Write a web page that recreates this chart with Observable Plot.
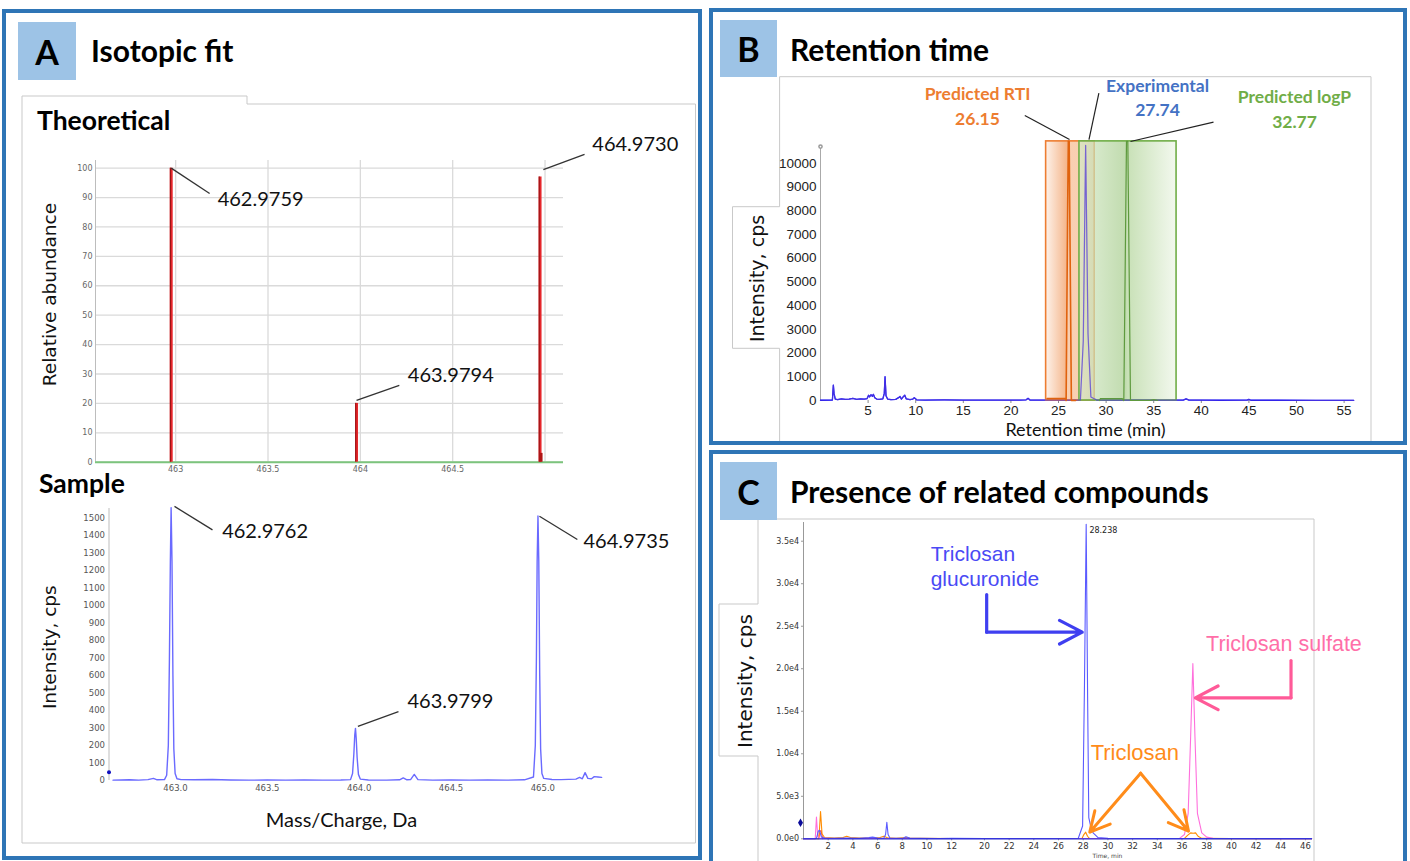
<!DOCTYPE html>
<html>
<head>
<meta charset="utf-8">
<script src="https://cdn.jsdelivr.net/npm/d3@7"></script>
<script src="https://cdn.jsdelivr.net/npm/@observablehq/plot@0.6"></script>
<style>
  html, body { margin:0; padding:0; background:#fff; width:1410px; height:861px; overflow:hidden; }
  #page { position:relative; width:1410px; height:861px; }
  .panel { position:absolute; box-sizing:border-box; border:4px solid #2E75B6; }
  .letter { position:absolute; background:#9DC3E6; color:#000; font-family:Lato, "Open Sans", sans-serif; font-weight:700; font-size:34px; display:flex; align-items:center; justify-content:center; }
  .title { position:absolute; font-family:Lato, "Open Sans", sans-serif; font-weight:700; color:#000; white-space:nowrap; height:40px; line-height:40px; }
  .layer { position:absolute; left:0; top:0; width:1410px; height:861px; }
  .layer svg { position:absolute; left:0; top:0; }
</style>
</head>
<body>
<div id="page">
  <svg class="layer" width="1410" height="861">
    <g fill="none" stroke="#c9c9c9" stroke-width="1">
      <path d="M22,843 V96 H247 V104 H695.5 V843 Z"/>
      <path d="M779.6,441 V348.3 H732.5 V206.7 H779.6 V76.7 H1371 V441"/>
      <path d="M758,861 V756 H719 V604 H758 V519 H1314 V861"/>
    </g>
  </svg>
  <div class="panel" style="left:2px;top:9px;width:700px;height:851px"></div>
  <div class="panel" style="left:709px;top:8px;width:698px;height:437px"></div>
  <div class="panel" style="left:709px;top:450px;width:698px;height:430px"></div>
  <div class="letter" style="left:18px;top:22px;width:58px;height:58px">A</div>
  <div class="letter" style="left:720px;top:20px;width:57px;height:57px">B</div>
  <div class="letter" style="left:720px;top:462px;width:57px;height:58px">C</div>
  <div class="title" style="left:91px;top:30px;font-size:30px">Isotopic fit</div>
  <div class="title" style="left:790px;top:29px;font-size:30px">Retention time</div>
  <div class="title" style="left:790px;top:471px;font-size:30px">Presence of related compounds</div>
  <div class="title" style="left:37px;top:100px;font-size:26.5px">Theoretical</div>
  <div class="title" style="left:39px;top:463px;font-size:26.5px">Sample</div>
  <div id="charts" class="layer"></div>
</div>
<script>
// ================= DATA =================
// --- Panel A, theoretical isotope pattern ---
const theoMz = [462.9759, 463.9794, 464.9730];
const theoAbundance = [100, 20, 97];
const theoMinorMz = [464.9785];
const theoMinorAbundance = [3];
const theoXTicks = [463, 463.5, 464, 464.5];
const theoGridX = [463, 463.5, 464, 464.5, 465];
const theoYTicks = [0, 10, 20, 30, 40, 50, 60, 70, 80, 90, 100];
const theoLabels = ["462.9759", "463.9794", "464.9730"];
const theoLabelAt = [[463.2275, 89.4], [464.257, 29.5], [465.256, 108.0]];
const theoLeaderFrom = [[462.9759, 100], [463.9794, 21], [464.991, 99.5]];
const theoLeaderTo = [[463.184, 91.4], [464.211, 26.1], [465.214, 104.7]];

// --- Panel A, sample spectrum (m/z, intensity cps) ---
const sampleSpectrum = [
  [462.66, 2], [462.75, 4], [462.80, 2], [462.85, 5], [462.88, 12], [462.90, 4], [462.94, 5],
  [462.952, 30], [462.961, 200], [462.967, 700], [462.972, 1250], [462.9762, 1560], [462.981, 1250],
  [462.986, 600], [462.991, 180], [462.998, 40], [463.008, 10], [463.03, 5], [463.10, 4], [463.20, 6],
  [463.30, 3], [463.40, 2], [463.50, 3], [463.60, 2], [463.70, 3], [463.80, 2], [463.90, 3],
  [463.953, 5], [463.964, 40], [463.971, 150], [463.976, 260], [463.9799, 298], [463.984, 240],
  [463.989, 130], [463.996, 35], [464.006, 8], [464.05, 3], [464.15, 2], [464.22, 4], [464.24, 15],
  [464.26, 4], [464.28, 5], [464.30, 35], [464.32, 5], [464.40, 2], [464.50, 3], [464.60, 2],
  [464.70, 3], [464.80, 2], [464.90, 4], [464.949, 20], [464.959, 200], [464.965, 700],
  [464.969, 1250], [464.9735, 1512], [464.978, 1250], [464.983, 600], [464.988, 180], [464.995, 40],
  [465.005, 12], [465.05, 6], [465.10, 5], [465.18, 8], [465.20, 18], [465.215, 10], [465.23, 45],
  [465.245, 12], [465.265, 10], [465.28, 22], [465.30, 20], [465.32, 18]
];
const sampleMarker = [[462.638, 47]];
const sampleXTicks = [463.0, 463.5, 464.0, 464.5, 465.0];
const sampleYTicks = [0, 100, 200, 300, 400, 500, 600, 700, 800, 900, 1000, 1100, 1200, 1300, 1400, 1500];
const sampleLabels = ["462.9762", "463.9799", "464.9735"];
const sampleLabelAt = [[463.254, 1424], [464.263, 452], [465.221, 1366]];
const sampleLeaderFrom = [[462.9946, 1567], [463.993, 309], [464.9815, 1511]];
const sampleLeaderTo = [[463.2014, 1433], [464.214, 394], [465.188, 1378]];

// --- Panel B, retention time (min, cps) ---
const ticTrace = [
  [0.0, 10], [1.25, 20], [1.35, 650], [1.42, 300], [1.55, 60], [1.8, 40], [2.2, 70], [2.6, 50],
  [3.0, 60], [3.4, 90], [3.8, 50], [4.2, 70], [4.6, 60], [4.9, 80], [5.05, 220], [5.15, 150],
  [5.3, 240], [5.45, 180], [5.55, 260], [5.7, 120], [5.9, 60], [6.2, 50], [6.55, 70], [6.7, 300],
  [6.78, 1000], [6.88, 200], [7.05, 60], [7.4, 40], [7.9, 50], [8.2, 120], [8.35, 170], [8.5, 60],
  [8.7, 160], [8.85, 220], [9.0, 70], [9.4, 40], [9.7, 60], [9.85, 120], [10.1, 30], [11, 20],
  [13, 25], [15, 15], [17, 20], [19, 15], [21, 20], [21.6, 30], [21.8, 90], [22.0, 20], [23, 15],
  [24.5, 20], [26, 15], [27.3, 20], [27.6, 2500], [27.85, 10750], [28.1, 2800], [28.4, 150],
  [29, 20], [31, 15], [34, 20], [36, 15], [38.1, 20], [38.4, 70], [38.7, 20], [40, 15], [42, 10],
  [44.8, 15], [45.0, 45], [45.2, 10], [48, 10], [52, 8], [56, 5]
];
const rtiTrace = [[23.8, 80], [25.75, 80], [25.8, 0], [26.02, 10920], [26.12, 10920], [26.35, 0], [26.8, 0]];
const logpTrace = [[29.3, 0], [29.4, 80], [31.7, 80], [31.86, 0], [32.14, 10920], [32.28, 10920], [32.56, 0], [34.6, 0], [35.0, 40], [35.4, 0]];
const windowNames = ["Predicted RTI", "Predicted logP"];
const windowStart = [23.7, 27.2];
const windowEnd = [28.8, 37.4];
const windowTop = [10920, 10920];
const rtXTicks = [5, 10, 15, 20, 25, 30, 35, 40, 45, 50, 55];
const rtYTicks = [0, 1000, 2000, 3000, 4000, 5000, 6000, 7000, 8000, 9000, 10000];
const rtNoteNames = ["Predicted RTI", "Experimental", "Predicted logP"];
const rtNoteValues = ["26.15", "27.74", "32.77"];
const rtNoteColors = ["#ED7D31", "#4472C4", "#70AD47"];
const rtNoteX = [16.49, 35.40, 49.79];
const rtNoteNameY = [12895, 13232, 12756];
const rtNoteValueY = [11854, 12221, 11728];
const rtLeaderFrom = [[21.46, 12010], [29.24, 12950], [41.28, 11728]];
const rtLeaderTo = [[26.16, 10999], [28.20, 10999], [32.56, 10914]];

// --- Panel C, related compounds (min, cps) ---
const glucuronideTrace = [
  [0, 0], [0.9, 0], [1.05, 50], [1.2, 900], [1.3, 1000], [1.45, 200], [1.7, 80], [2.5, 60], [3.5, 80],
  [4.5, 50], [5.3, 150], [5.6, 200], [6.0, 80], [6.5, 60], [6.65, 500], [6.75, 1950], [6.85, 500],
  [7.0, 100], [7.5, 60], [8.1, 100], [8.3, 250], [8.6, 80], [9.5, 50], [11, 40], [12, 50], [20, 40],
  [24, 40], [27.6, 60], [27.95, 1500], [28.1, 18000], [28.24, 37000], [28.36, 16000], [28.45, 2500],
  [28.6, 1500], [28.8, 700], [29.2, 150], [30, 60], [34, 40], [40, 40], [46.5, 30]
];
const sulfateTrace = [
  [0, 0], [0.95, 0], [1.05, 2550], [1.15, 300], [1.3, 100], [2, 50], [5, 40], [12, 30], [20, 30],
  [30, 30], [35.8, 50], [36.2, 500], [36.5, 3000], [36.7, 12000], [36.88, 20600], [37.05, 12000],
  [37.25, 3000], [37.6, 700], [38.0, 200], [38.5, 50], [40, 30], [46.5, 20]
];
const triclosanTrace = [
  [0, 0], [1.25, 0], [1.38, 3200], [1.5, 600], [1.7, 150], [2.5, 100], [3.2, 150], [3.5, 300],
  [3.8, 150], [4.5, 100], [5.5, 80], [6.2, 150], [6.5, 300], [6.8, 120], [7.5, 60], [8.3, 150],
  [8.6, 80], [9.5, 50], [12, 30], [20, 30], [27.9, 40], [28.05, 500], [28.2, 780], [28.35, 300],
  [28.5, 60], [29, 30], [36.2, 40], [36.45, 400], [36.7, 700], [36.9, 650], [37.1, 700], [37.3, 300],
  [37.6, 50], [40, 20], [46.5, 20]
];
const otherTrace = [[1.2, 0], [1.32, 800], [1.42, 1000], [1.55, 0]];
const ccMarker = [[0, 1880]];
const ccXTicks = [2, 4, 6, 8, 10, 12, 20, 22, 24, 26, 28, 30, 32, 34, 36, 38, 40, 42, 44, 46];
const ccYTicks = [0, 5000, 10000, 15000, 20000, 25000, 30000, 35000];
const ccApexLabel = [[28.5, 36260, "28.238"]];
const glucText = [[10.3, 32106, "Triclosan\nglucuronide"]];
const glucArrowShaft = [[20.18, 28730], [20.18, 24300]];
const glucArrowHead = [[20.18, 24300, 27.92, 24300]];
const sulfText = [[37.95, 22850, "Triclosan sulfate"]];
const sulfArrowShaft = [[44.83, 20970], [44.83, 16580]];
const sulfArrowHead = [[44.83, 16580, 37.08, 16580]];
const tricText = [[28.6, 10110, "Triclosan"]];
const tricArrows = [[32.65, 7715, 28.53, 776], [32.65, 7715, 36.53, 894]];
// broken time axis: 12–20 min squeezed into this many minutes of axis length
const ccGapStart = 12, ccGapEnd = 20, ccGapWidth = 2.656, ccTimeMax = 46.57;

// ================= CHARTS =================
const W = 1410, H = 861;
const charts = document.getElementById("charts");
function addLayer(svg) { const d = document.createElement("div"); d.className = "layer"; d.appendChild(svg); charts.appendChild(d); }
const baseStyle = {background: "transparent", overflow: "visible", fontFamily: "'DejaVu Sans', sans-serif"};
const zip = (labels, at, from, to) => labels.map((text, i) => ({text, x: at[i][0], y: at[i][1], x1: from[i][0], y1: from[i][1], x2: to[i][0], y2: to[i][1]}));
const plain = d3.format("d");

// ---------- A: Theoretical ----------
{
  const theo = theoMz.map((mz, i) => ({mz, ab: theoAbundance[i]}));
  const minor = theoMinorMz.map((mz, i) => ({mz, ab: theoMinorAbundance[i]}));
  const notes = zip(theoLabels, theoLabelAt, theoLeaderFrom, theoLeaderTo);
  const xd = [462.566, 465.10];
  addLayer(Plot.plot({
    width: W, height: H, style: baseStyle,
    marginLeft: 95, marginRight: W - 563, marginTop: 160, marginBottom: H - 461.7,
    x: {domain: xd, label: null}, y: {domain: [0, 102.6], label: null},
    marks: [
      Plot.ruleX(theoGridX, {stroke: "#dadada", strokeWidth: 1.3}),
      Plot.ruleY(theoYTicks, {stroke: "#dadada", strokeWidth: 1.3}),
      Plot.ruleX([xd[0]], {stroke: "#bdbdbd", strokeWidth: 1}),
      Plot.axisY({ticks: theoYTicks, tickSize: 0, tickPadding: 3, fontSize: 8, fill: "#666", label: null, tickFormat: plain}),
      Plot.axisX({ticks: theoXTicks, tickSize: 0, tickPadding: 4, fontSize: 8, fill: "#666", label: null, tickFormat: d => `${d}`}),
      Plot.ruleY([0], {stroke: "#7cc47d", strokeWidth: 2}),
      Plot.ruleX(theo, {x: "mz", y1: 0, y2: "ab", stroke: "#E5262B", strokeWidth: 3}),
      Plot.ruleX(theo, {x: "mz", y1: 0, y2: "ab", stroke: "#8a1010", strokeWidth: 0.9, dx: -0.8}),
      Plot.ruleX(minor, {x: "mz", y1: 0, y2: "ab", stroke: "#b01515", strokeWidth: 3}),
      Plot.link(notes, {x1: "x1", y1: "y1", x2: "x2", y2: "y2", stroke: "#333", strokeWidth: 1.3}),
      Plot.text(notes, {x: "x", y: "y", text: "text", textAnchor: "start", lineAnchor: "middle", fontFamily: "Lato", fontSize: 20, fill: "#111"}),
      Plot.text(["Relative abundance"], {frameAnchor: "left", dx: -45.5, dy: -16.8, rotate: -90, textAnchor: "middle", lineAnchor: "middle", fontSize: 18.5, fill: "#111"})
    ]
  }));
}

// ---------- A: Sample ----------
{
  const spec = sampleSpectrum.map(([mz, v]) => ({mz, v}));
  const notes = zip(sampleLabels, sampleLabelAt, sampleLeaderFrom, sampleLeaderTo);
  const xd = [462.638, 465.327];
  addLayer(Plot.plot({
    width: W, height: H, style: baseStyle,
    marginLeft: 108.5, marginRight: W - 602.4, marginTop: 508, marginBottom: H - 780,
    x: {domain: xd, label: null}, y: {domain: [0, 1555], label: null},
    marks: [
      Plot.ruleX([xd[0]], {stroke: "#bdbdbd", strokeWidth: 1}),
      Plot.axisY({ticks: sampleYTicks, tickSize: 0, tickPadding: 4, fontSize: 8.5, fill: "#555", label: null, tickFormat: plain}),
      Plot.axisX({ticks: sampleXTicks, tickSize: 0, tickPadding: 4, fontSize: 8.5, fill: "#555", label: null, tickFormat: d3.format(".1f")}),
      Plot.line(spec, {x: "mz", y: "v", stroke: "#6A6AFF", strokeWidth: 1.4}),
      Plot.dot(sampleMarker, {x: d => d[0], y: d => d[1], r: 2, fill: "#1010c0"}),
      Plot.link(notes, {x1: "x1", y1: "y1", x2: "x2", y2: "y2", stroke: "#333", strokeWidth: 1.3}),
      Plot.text(notes, {x: "x", y: "y", text: "text", textAnchor: "start", lineAnchor: "middle", fontFamily: "Lato", fontSize: 20, fill: "#111"}),
      Plot.text(["Intensity, cps"], {frameAnchor: "left", dx: -59, dy: 2.7, rotate: -90, textAnchor: "middle", lineAnchor: "middle", fontSize: 18.5, fill: "#111"}),
      Plot.text(["Mass/Charge, Da"], {frameAnchor: "bottom", dx: -14.5, dy: 40, textAnchor: "middle", lineAnchor: "middle", fontFamily: "Lato", fontSize: 20, fill: "#111"})
    ]
  }));
}

// ---------- B: Retention time ----------
{
  const tic = ticTrace.map(([t, v]) => ({t, v}));
  const rti = rtiTrace.map(([t, v]) => ({t, v}));
  const logp = logpTrace.map(([t, v]) => ({t, v}));
  const win = windowNames.map((name, i) => ({name, x1: windowStart[i], x2: windowEnd[i], top: windowTop[i]}));
  const notes = rtNoteNames.map((name, i) => ({name, value: rtNoteValues[i], color: rtNoteColors[i], x: rtNoteX[i], yn: rtNoteNameY[i], yv: rtNoteValueY[i],
    x1: rtLeaderFrom[i][0], y1: rtLeaderFrom[i][1], x2: rtLeaderTo[i][0], y2: rtLeaderTo[i][1]}));
  const svg = Plot.plot({
    width: W, height: H, style: baseStyle,
    marginLeft: 820, marginRight: W - 1354, marginTop: 148, marginBottom: H - 400,
    x: {domain: [0, 56.09], label: null}, y: {domain: [0, 10620], label: null},
    marks: [
      Plot.ruleX([0], {stroke: "#aaaaaa", strokeWidth: 1}),
      Plot.dot([[0, 10700]], {x: d => d[0], y: d => d[1], r: 1.6, stroke: "#999", fill: "white"}),
      Plot.axisY({ticks: rtYTicks, tickSize: 0, tickPadding: 4, fontSize: 13.5, fontFamily: "'Liberation Sans Narrow', sans-serif", fill: "#222", label: null, tickFormat: plain}),
      Plot.axisX({ticks: rtXTicks, tickSize: 3, tickPadding: 2, fontSize: 13.5, fontFamily: "'Liberation Sans Narrow', sans-serif", fill: "#222", stroke: "#888", label: null, tickFormat: plain}),
      Plot.line(tic, {x: "t", y: "v", stroke: "#0000FF", strokeWidth: 1.3}),
      Plot.rect([win[0]], {x1: "x1", x2: "x2", y1: 0, y2: "top", fill: "url(#gradRTI)", fillOpacity: 0.78, stroke: "#ED7D31", strokeWidth: 1.6}),
      Plot.rect([win[1]], {x1: "x1", x2: "x2", y1: 0, y2: "top", fill: "url(#gradLogP)", fillOpacity: 0.72, stroke: "#70AD47", strokeWidth: 1.6}),
      Plot.line(tic, {x: "t", y: "v", stroke: "#5A3FD8", strokeOpacity: 0.75, strokeWidth: 1.2}),
      Plot.line(rti, {x: "t", y: "v", stroke: "#E0620E", strokeWidth: 1.6}),
      Plot.line(logp, {x: "t", y: "v", stroke: "#5E9A3E", strokeWidth: 1.2}),
      Plot.link(notes, {x1: "x1", y1: "y1", x2: "x2", y2: "y2", stroke: "#222", strokeWidth: 1.2}),
      Plot.text(notes, {x: "x", y: "yn", text: "name", fill: "color", textAnchor: "middle", lineAnchor: "middle", fontFamily: "Lato", fontWeight: "bold", fontSize: 17.5}),
      Plot.text(notes, {x: "x", y: "yv", text: "value", fill: "color", textAnchor: "middle", lineAnchor: "middle", fontFamily: "Lato", fontWeight: "bold", fontSize: 17.5}),
      Plot.text(["Intensity, cps"], {frameAnchor: "left", dx: -63, dy: 4, rotate: -90, textAnchor: "middle", lineAnchor: "middle", fontSize: 19, fill: "#111"}),
      Plot.text(["Retention time (min)"], {frameAnchor: "bottom", dx: -2, dy: 30, textAnchor: "middle", lineAnchor: "middle", fontFamily: "Lato", fontSize: 18, fill: "#111"})
    ]
  });
  const defs = d3.select(svg).insert("defs", ":first-child");
  const g1 = defs.append("linearGradient").attr("id", "gradRTI").attr("x1", 0).attr("x2", 1).attr("y1", 0).attr("y2", 0);
  [[0, "#FDEEE4"], [0.43, "#F2A26C"], [0.45, "#F7C29C"], [1, "#F7C29C"]].forEach(([o, c]) => g1.append("stop").attr("offset", o).attr("stop-color", c));
  const g2 = defs.append("linearGradient").attr("id", "gradLogP").attr("x1", 0).attr("x2", 1).attr("y1", 0).attr("y2", 0);
  [[0, "#D6E9C9"], [0.48, "#A9CE90"], [0.5, "#B3D59B"], [1, "#EEF6E8"]].forEach(([o, c]) => g2.append("stop").attr("offset", o).attr("stop-color", c));
  addLayer(svg);
}

// ---------- C: related compounds ----------
{
  // position along the broken time axis
  const bt = t => t <= ccGapStart ? t
    : t >= ccGapEnd ? t - (ccGapEnd - ccGapStart) + ccGapWidth
    : ccGapStart + (t - ccGapStart) * ccGapWidth / (ccGapEnd - ccGapStart);
  const toObj = tr => tr.map(([t, v]) => ({x: bt(t), v}));
  const tickLabel = new Map(ccXTicks.map(t => [bt(t), String(t)]));
  const fmt = d => d3.format(".1e")(d).replace("+", "");
  const P = d => bt(d[0]);
  addLayer(Plot.plot({
    width: W, height: H, style: baseStyle,
    marginLeft: 803, marginRight: W - 1312, marginTop: 522, marginBottom: H - 838.3,
    x: {domain: [0, bt(ccTimeMax)], label: null},
    y: {domain: [0, 37200], label: null},
    marks: [
      Plot.ruleX([0], {stroke: "#999", strokeWidth: 1}),
      Plot.axisY({ticks: ccYTicks, tickSize: 2, tickPadding: 2.5, fontSize: 8, fill: "#333", stroke: "#999", label: null, tickFormat: fmt}),
      Plot.axisX({ticks: ccXTicks.map(bt), tickSize: 2, tickPadding: 2, fontSize: 8.5, fill: "#333", stroke: "#999", label: null, tickFormat: d => tickLabel.get(d)}),
      Plot.line(toObj(otherTrace), {x: "x", y: "v", stroke: "#FF3030", strokeWidth: 1}),
      Plot.line(toObj(triclosanTrace), {x: "x", y: "v", stroke: "#FF8C00", strokeWidth: 1.1}),
      Plot.line(toObj(sulfateTrace), {x: "x", y: "v", stroke: "#FF6FDC", strokeWidth: 1.1}),
      Plot.line(toObj(glucuronideTrace), {x: "x", y: "v", stroke: "#5A5AFF", strokeWidth: 1.1}),
      Plot.ruleY([0], {stroke: "#2a2ad0", strokeWidth: 1.2}),
      Plot.dot(ccMarker, {x: P, y: d => d[1], symbol: "diamond", r: 2.6, fill: "#0a0a9a", dx: -3}),
      Plot.text(ccApexLabel, {x: P, y: d => d[1], text: d => d[2], textAnchor: "start", lineAnchor: "middle", fontSize: 8, fill: "#222"}),
      Plot.text(glucText, {x: P, y: d => d[1], text: d => d[2], textAnchor: "start", lineAnchor: "middle", lineHeight: 1.2, fontFamily: "'Liberation Sans', Arial, sans-serif", fontSize: 21, fill: "#4A4AF5"}),
      Plot.line(glucArrowShaft, {x: P, y: d => d[1], stroke: "#3F3FF0", strokeWidth: 3.2}),
      Plot.arrow(glucArrowHead, {x1: P, y1: d => d[1], x2: d => bt(d[2]), y2: d => d[3], stroke: "#3F3FF0", strokeWidth: 3.2, headLength: 12, headAngle: 55}),
      Plot.text(sulfText, {x: P, y: d => d[1], text: d => d[2], textAnchor: "start", lineAnchor: "middle", fontFamily: "'Liberation Sans', Arial, sans-serif", fontSize: 21.5, fill: "#FF6FA8"}),
      Plot.line(sulfArrowShaft, {x: P, y: d => d[1], stroke: "#FF5A98", strokeWidth: 3.2}),
      Plot.arrow(sulfArrowHead, {x1: P, y1: d => d[1], x2: d => bt(d[2]), y2: d => d[3], stroke: "#FF5A98", strokeWidth: 3.2, headLength: 12, headAngle: 55}),
      Plot.text(tricText, {x: P, y: d => d[1], text: d => d[2], textAnchor: "start", lineAnchor: "middle", fontFamily: "'Liberation Sans', Arial, sans-serif", fontSize: 22, fill: "#FF8C1A"}),
      Plot.arrow(tricArrows, {x1: P, y1: d => d[1], x2: d => bt(d[2]), y2: d => d[3], stroke: "#FF8C1A", strokeWidth: 3, headLength: 11, headAngle: 55}),
      Plot.text(["Intensity, cps"], {frameAnchor: "left", dx: -58, dy: 0.4, rotate: -90, textAnchor: "middle", lineAnchor: "middle", fontSize: 20, fill: "#111"}),
      Plot.text(["Time, min"], {frameAnchor: "bottom", dx: 49.5, dy: 17.4, textAnchor: "middle", lineAnchor: "middle", fontSize: 6, fill: "#444"})
    ]
  }));
}
</script>
</body>
</html>
